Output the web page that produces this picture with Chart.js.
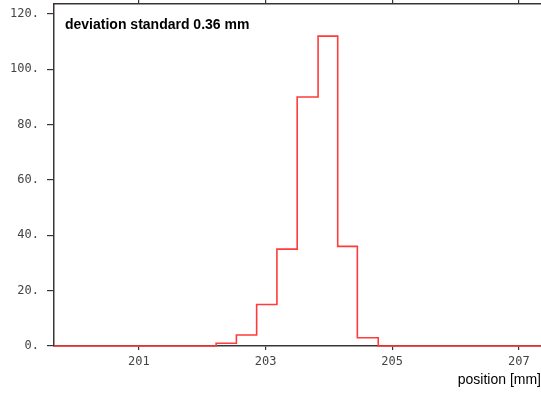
<!DOCTYPE html>
<html>
<head>
<meta charset="utf-8">
<script src="https://cdn.jsdelivr.net/npm/chart.js@4"></script>
<style>
  html, body { margin: 0; padding: 0; background: #fff; }
  #wrap { position: relative; width: 541px; height: 394px; }
</style>
</head>
<body>
<div id="wrap"><canvas id="histo"></canvas></div>
<script>
// Histogramme des positions mesurées

// Bords des classes (mm) et effectifs
const binEdges  = [202.22, 202.54, 202.86, 203.18, 203.50, 203.83, 204.14, 204.45, 204.78];
const binCounts = [1, 4, 15, 35, 90, 112, 36, 3];

// Axes
const xTicks = [201, 203, 205, 207];
const yTicks = [0, 20, 40, 60, 80, 100, 120];
const xMin = 199.66, xMax = 207.35;
const yMin = 0, yMax = 123.6;

const annotationText = 'deviation standard 0.36 mm';
const xTitle = 'position [mm]';

const AXIS_COLOR = '#3b3434';
const LINE_COLOR = '#ff3b3b';
const TICK_FONT = { family: '"DejaVu Sans Mono", monospace', size: 12 };

// Points du tracé en escalier : zéro avant et après l'histogramme
const points = [{ x: xMin, y: 0 }];
binEdges.forEach((e, i) => {
  points.push({ x: e, y: i < binCounts.length ? binCounts[i] : 0 });
});
points.push({ x: xMax, y: 0 });

// Texte dans le coin haut gauche de la zone de tracé
const annotationPlugin = {
  id: 'annotation',
  afterDraw(chart) {
    const { ctx, chartArea } = chart;
    ctx.save();
    ctx.font = 'bold 14px "Liberation Sans", Arial, sans-serif';
    ctx.fillStyle = '#000';
    ctx.textBaseline = 'alphabetic';
    ctx.fillText(annotationText, chartArea.left + 11, chartArea.top + 25);
    ctx.restore();
  }
};

// Pas de marge automatique : la zone de tracé colle aux bords
function noPadding(s) {
  s.paddingTop = 0;
  s.paddingBottom = 0;
  s.paddingLeft = 0;
  s.paddingRight = 0;
}

new Chart(document.getElementById('histo'), {
  type: 'line',
  data: {
    datasets: [{
      data: points,
      stepped: 'before',
      borderColor: LINE_COLOR,
      borderWidth: 1.6,
      pointRadius: 0,
      fill: false,
      clip: false
    }]
  },
  options: {
    responsive: true,
    maintainAspectRatio: false,
    animation: false,
    layout: { padding: 0 },
    plugins: {
      legend: { display: false },
      tooltip: { enabled: false }
    },
    scales: {
      x: {
        type: 'linear',
        position: 'bottom',
        min: xMin,
        max: xMax,
        afterBuildTicks: s => { s.ticks = xTicks.map(v => ({ value: v })); },
        afterFit: s => { s.height = 48; noPadding(s); },
        ticks: {
          color: '#444',
          font: TICK_FONT,
          padding: 5,
          maxRotation: 0,
          callback: v => String(v)
        },
        grid: { drawOnChartArea: false, tickLength: 4, color: AXIS_COLOR, lineWidth: 1.2 },
        border: { display: true, color: AXIS_COLOR, width: 1.5 },
        title: {
          display: true,
          text: xTitle,
          align: 'end',
          color: '#000',
          font: { family: '"Liberation Sans", Arial, sans-serif', size: 14 },
          padding: { top: 0, bottom: 5 }
        }
      },
      xTop: {
        type: 'linear',
        position: 'top',
        min: xMin,
        max: xMax,
        afterBuildTicks: s => { s.ticks = xTicks.map(v => ({ value: v })); },
        afterFit: s => { s.height = 4; noPadding(s); },
        ticks: { display: false },
        grid: { drawOnChartArea: false, tickLength: 4, color: AXIS_COLOR, lineWidth: 1.2 },
        border: { display: true, color: AXIS_COLOR, width: 1.5 }
      },
      y: {
        min: yMin,
        max: yMax,
        afterBuildTicks: s => { s.ticks = yTicks.map(v => ({ value: v })); },
        afterFit: s => { s.width = 54; noPadding(s); },
        ticks: {
          color: '#444',
          font: TICK_FONT,
          padding: 8,
          callback: v => v + '.'
        },
        grid: { drawOnChartArea: false, tickLength: 7, color: AXIS_COLOR, lineWidth: 1.2 },
        border: { display: true, color: AXIS_COLOR, width: 1.5 }
      }
    }
  },
  plugins: [annotationPlugin]
});
</script>
</body>
</html>
